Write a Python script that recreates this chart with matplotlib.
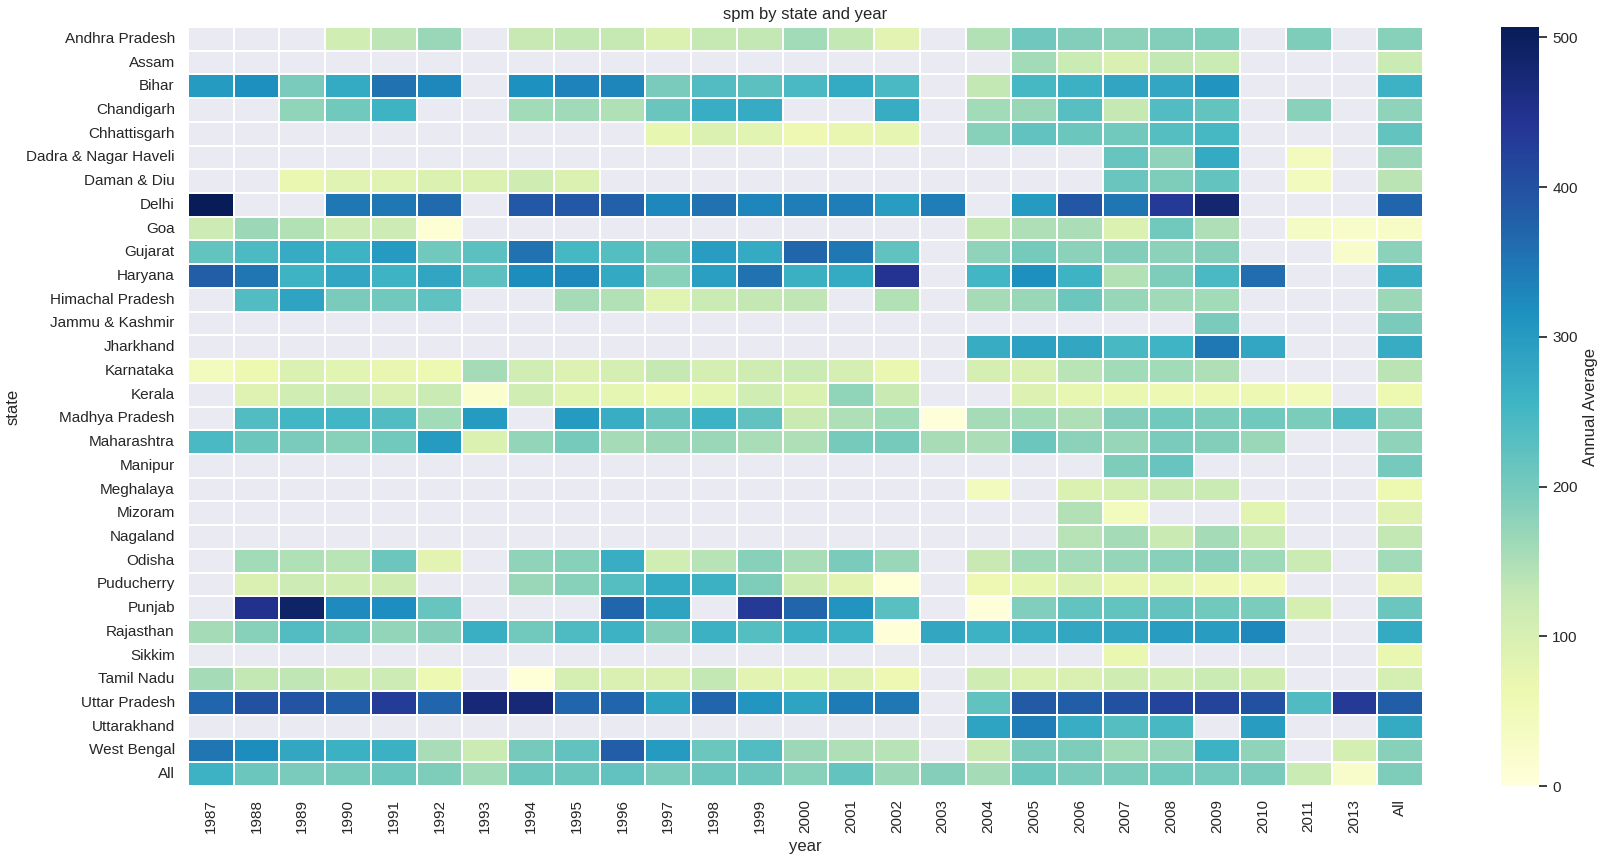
import numpy as np
import matplotlib
matplotlib.use("Agg")
import matplotlib.pyplot as plt
import seaborn as sns
import pandas as pd

N = np.nan

years = ["1987", "1988", "1989", "1990", "1991", "1992", "1993", "1994", "1995",
         "1996", "1997", "1998", "1999", "2000", "2001", "2002", "2003", "2004",
         "2005", "2006", "2007", "2008", "2009", "2010", "2011", "2013", "All"]

states = ["Andhra Pradesh", "Assam", "Bihar", "Chandigarh", "Chhattisgarh",
          "Dadra & Nagar Haveli", "Daman & Diu", "Delhi", "Goa", "Gujarat",
          "Haryana", "Himachal Pradesh", "Jammu & Kashmir", "Jharkhand",
          "Karnataka", "Kerala", "Madhya Pradesh", "Maharashtra", "Manipur",
          "Meghalaya", "Mizoram", "Nagaland", "Odisha", "Puducherry", "Punjab",
          "Rajasthan", "Sikkim", "Tamil Nadu", "Uttar Pradesh", "Uttarakhand",
          "West Bengal", "All"]

andhra = [N, N, N, 112, 135, 168, N, 125, 130, 128, 95, 128, 130, 160, 130, 80, N, 145, 207, 188, 180, 188, 192, N, 192, N, 184]
assam = [N, N, N, N, N, N, N, N, N, N, N, N, N, N, N, N, N, N, 160, 120, 97, 130, 120, N, N, N, 120]
bihar = [300, 318, 195, 275, 355, 328, N, 315, 333, 330, 195, 237, 225, 245, 275, 245, N, 130, 248, 262, 283, 280, 310, N, N, N, 260]
chandigarh = [N, N, 175, 205, 258, N, N, 160, 162, 148, 213, 268, 272, N, N, 270, N, 160, 167, 230, 128, 236, 218, N, 182, N, 178]
chhattisgarh = [N, N, N, N, N, N, N, N, N, N, 75, 95, 82, 60, 72, 77, N, 184, 220, 210, 205, 232, 248, N, N, N, 218]
dadra = [N, N, N, N, N, N, N, N, N, N, N, N, N, N, N, N, N, N, N, N, 215, 178, 275, N, 45, N, 167]
daman = [N, N, 70, 87, 87, 95, 95, 113, 95, N, N, N, N, N, N, N, N, N, N, N, 212, 192, 218, N, 45, N, 138]
delhi = [507, N, N, 348, 348, 365, N, 390, 390, 378, 328, 355, 330, 340, 340, 298, 340, N, 300, 392, 352, 435, 480, N, N, N, 370]
goa = [117, 165, 146, 117, 117, 8, N, N, N, N, N, N, N, N, N, N, N, 130, 150, 152, 95, 205, 150, N, 35, 25, 28]
gujarat = [218, 242, 273, 258, 300, 205, 225, 355, 248, 232, 200, 298, 275, 372, 348, 220, N, 178, 200, 180, 188, 180, 186, N, N, 25, 180]
haryana = [380, 352, 258, 280, 258, 283, 225, 322, 328, 277, 183, 292, 355, 265, 275, 445, N, 253, 318, 258, 146, 192, 245, 362, N, N, 270]
himachal = [N, 237, 285, 195, 205, 223, N, N, 158, 145, 82, 120, 130, 133, N, 146, N, 157, 168, 210, 170, 162, 160, N, N, N, 165]
jammu = [N, N, N, N, N, N, N, N, N, N, N, N, N, N, N, N, N, N, N, N, N, N, 196, N, N, N, 196]
jharkhand = [N, N, N, N, N, N, N, N, N, N, N, N, N, N, N, N, N, 270, 290, 278, 247, 257, 348, 280, N, N, 270]
karnataka = [45, 65, 95, 82, 72, 63, 157, 112, 90, 103, 128, 103, 113, 120, 103, 70, N, 103, 97, 140, 160, 160, 150, N, N, N, 138]
kerala = [N, 88, 112, 117, 97, 120, 18, 112, 82, 78, 62, 78, 112, 95, 175, 122, N, N, 93, 75, 70, 63, 62, 62, 48, N, 65]
madhya = [N, 237, 253, 253, 237, 160, 300, N, 300, 268, 208, 260, 220, 122, 150, 160, 3, 158, 160, 150, 188, 205, 194, 205, 194, 237, 178]
maharashtra = [245, 210, 195, 183, 205, 300, 95, 173, 200, 157, 165, 168, 153, 150, 200, 200, 155, 152, 208, 180, 170, 195, 188, 168, N, N, 178]
manipur = [N, N, N, N, N, N, N, N, N, N, N, N, N, N, N, N, N, N, N, N, 192, 215, N, N, N, N, 202]
meghalaya = [N, N, N, N, N, N, N, N, N, N, N, N, N, N, N, N, N, 45, N, 95, 103, 122, 120, N, N, N, 65]
mizoram = [N, N, N, N, N, N, N, N, N, N, N, N, N, N, N, N, N, N, N, 146, 45, N, N, 82, N, N, 88]
nagaland = [N, N, N, N, N, N, N, N, N, N, N, N, N, N, N, N, N, N, N, 142, 157, 122, 157, 120, N, N, 130]
odisha = [N, 160, 147, 140, 208, 80, N, 178, 183, 268, 112, 142, 183, 153, 196, 168, N, 125, 162, 162, 172, 183, 185, 164, 120, N, 160]
puducherry = [N, 97, 117, 112, 113, N, N, 167, 183, 233, 275, 263, 192, 113, 80, 5, N, 60, 75, 95, 72, 78, 58, 55, N, N, 72]
punjab = [N, 450, 490, 325, 320, 215, N, N, N, 370, 287, N, 435, 372, 310, 228, N, 3, 190, 218, 218, 216, 205, 193, 103, N, 210]
rajasthan = [157, 183, 236, 205, 173, 186, 266, 205, 240, 260, 186, 263, 232, 260, 260, 3, 278, 260, 266, 278, 278, 297, 297, 328, N, N, 275]
sikkim = [N, N, N, N, N, N, N, N, N, N, N, N, N, N, N, N, N, N, N, N, 68, N, N, N, N, N, 68]
tamil = [157, 130, 133, 113, 117, 62, N, 5, 103, 97, 97, 130, 80, 82, 88, 60, N, 113, 95, 97, 113, 112, 120, 113, N, N, 103]
uttar = [370, 400, 395, 380, 430, 370, 475, 475, 370, 370, 287, 370, 308, 285, 343, 348, N, 220, 385, 380, 400, 420, 418, 400, 238, 435, 380]
uttarakhand = [N, N, N, N, N, N, N, N, N, N, N, N, N, N, N, N, N, 285, 340, 268, 233, 247, N, 297, N, N, 275]
westbengal = [350, 322, 278, 263, 263, 153, 120, 200, 220, 380, 300, 210, 236, 165, 150, 142, N, 122, 195, 192, 160, 170, 260, 178, N, 103, 183]
all_states = [260, 210, 195, 200, 210, 192, 160, 210, 210, 220, 195, 208, 208, 183, 218, 165, 186, 157, 210, 195, 195, 205, 202, 195, 120, 25, 192]

rows = [andhra, assam, bihar, chandigarh, chhattisgarh, dadra, daman, delhi,
        goa, gujarat, haryana, himachal, jammu, jharkhand, karnataka, kerala,
        madhya, maharashtra, manipur, meghalaya, mizoram, nagaland, odisha,
        puducherry, punjab, rajasthan, sikkim, tamil, uttar, uttarakhand,
        westbengal, all_states]

df = pd.DataFrame(rows, index=states, columns=years)

sns.set_theme(style="darkgrid")
plt.rcParams['font.family'] = ['Liberation Sans', 'DejaVu Sans']

W, H = 1603, 865
fig = plt.figure(figsize=(W / 100, H / 100), dpi=100)
ax = fig.add_axes([188 / W, 1 - 786 / H, (1423 - 188) / W, (786 - 27) / H])
cax = fig.add_axes([1501 / W, 1 - 786 / H, 38 / W, (786 - 27) / H])

sns.heatmap(df, cmap="YlGnBu", vmin=0, linewidths=1.2, linecolor="white",
            ax=ax, cbar_ax=cax, cbar_kws={"label": "Annual Average"})
ax.grid(False)

ax.set_title("spm by state and year")
ax.set_xlabel("year")
ax.set_ylabel("state")
plt.setp(ax.get_xticklabels(), rotation=90)
plt.setp(ax.get_yticklabels(), rotation=0)

fig.savefig("out.png", dpi=100)
